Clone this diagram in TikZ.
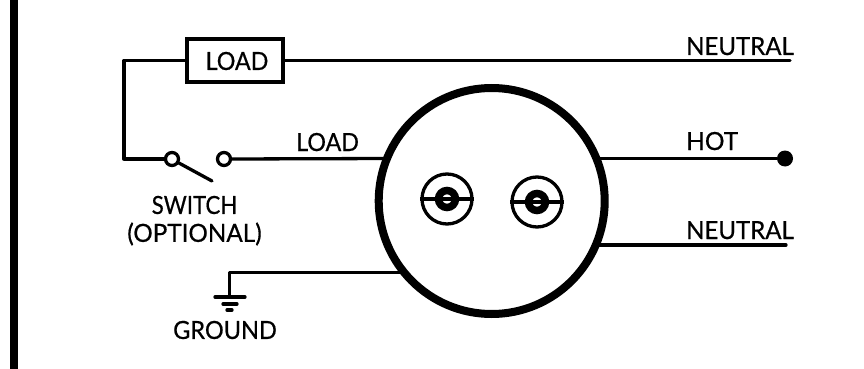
\documentclass[tikz,border=0pt]{standalone}
\usepackage{fontspec}
\setmainfont{Lato}[BoldFont={Lato},BoldFeatures={FakeBold=0.6}]
\tikzset{
  wire/.style={draw=black,line width=3.3pt,line cap=round,line join=round},
  lbl/.style={inner sep=0pt,font=\fontsize{25}{28}\selectfont\bfseries,text=black},
  contact/.style={circle,draw=black,line width=3.3pt,fill=white,minimum size=13pt,inner sep=0pt},
  port/.style={circle,draw=black,line width=3.3pt,minimum size=50pt,inner sep=0pt},
  hub/.style={circle,draw=black,line width=7.5pt,minimum size=17pt,inner sep=0pt},
}
\begin{document}
\begin{tikzpicture}[x=1pt,y=-1pt]
\useasboundingbox (0,0) rectangle (864,369);
\fill[black] (9.5,0) rectangle (18,369);
% nodes
\node[rectangle,draw=black,line width=3.3pt,minimum width=96pt,minimum height=43pt,inner sep=0pt] (loadbox) at (235,60.5) {};
\node[lbl,xscale=.93] (loadtxt) at (237,61) {LOAD};
\node[contact] (swa) at (172,159) {};
\node[contact] (swb) at (224,159) {};
\node[circle,draw=black,line width=8pt,minimum size=226pt,inner sep=0pt] (socket) at (491.7,201) {};
\node[port] (pa) at (447,199) {};
\node[port] (pb) at (537,202) {};
\node[hub] (ha) at (447,199) {};
\node[hub] (hb) at (537,202) {};
\node[circle,fill=black,minimum size=16pt,inner sep=0pt] (hotdot) at (785,158.5) {};
% free ends
\coordinate (corner) at (124,60.5);
\coordinate (cornerb) at (124,159);
\coordinate (nta) at (790,60.5);
\coordinate (ntb) at (786,245);
\coordinate (ntbs) at (598,245);
\coordinate (hots) at (598,158.5);
\coordinate (loads) at (388,158.5);
\coordinate (swarm) at (212,181);
\coordinate (gnds) at (402,272.5);
\coordinate (gndc) at (229.5,272.5);
\coordinate (gndb) at (229.5,297);
% connectors
\draw[wire] (loadbox.west) -- (corner) -- (cornerb) -- (swa.west);
\draw[wire] (loadbox.east) -- (nta);
\draw[wire] (swb.east) -- (loads);
\draw[wire] (swa.-30) -- (swarm);
\draw[wire] (hots) -- (hotdot);
\draw[wire] (ntbs) -- (ntb);
\draw[wire] (gnds) -- (gndc) -- (gndb);
\draw[wire] (215,297) -- (245,297);
\draw[wire] (223,304) -- (237,304);
\draw[wire] (227,310) -- (232,310);
\draw[line width=3.3pt] (pa.west) -- (pa.east);
\draw[line width=3.3pt] (pb.west) -- (pb.east);
% labels
\node[lbl,anchor=base west,xscale=.96] (l1) at (686,55) {NEUTRAL};
\node[lbl,anchor=base west,xscale=.98] (l2) at (686,150) {HOT};
\node[lbl,anchor=base west,xscale=.96] (l3) at (686,239) {NEUTRAL};
\node[lbl,anchor=base west,xscale=.93] (l4) at (296,151) {LOAD};
\node[lbl,xscale=.89] (l5) at (194.5,205) {SWITCH};
\node[lbl,xscale=.97] (l6) at (194.5,234) {(OPTIONAL)};
\node[lbl,xscale=.94] (l7) at (225,330) {GROUND};
\end{tikzpicture}
\end{document}
